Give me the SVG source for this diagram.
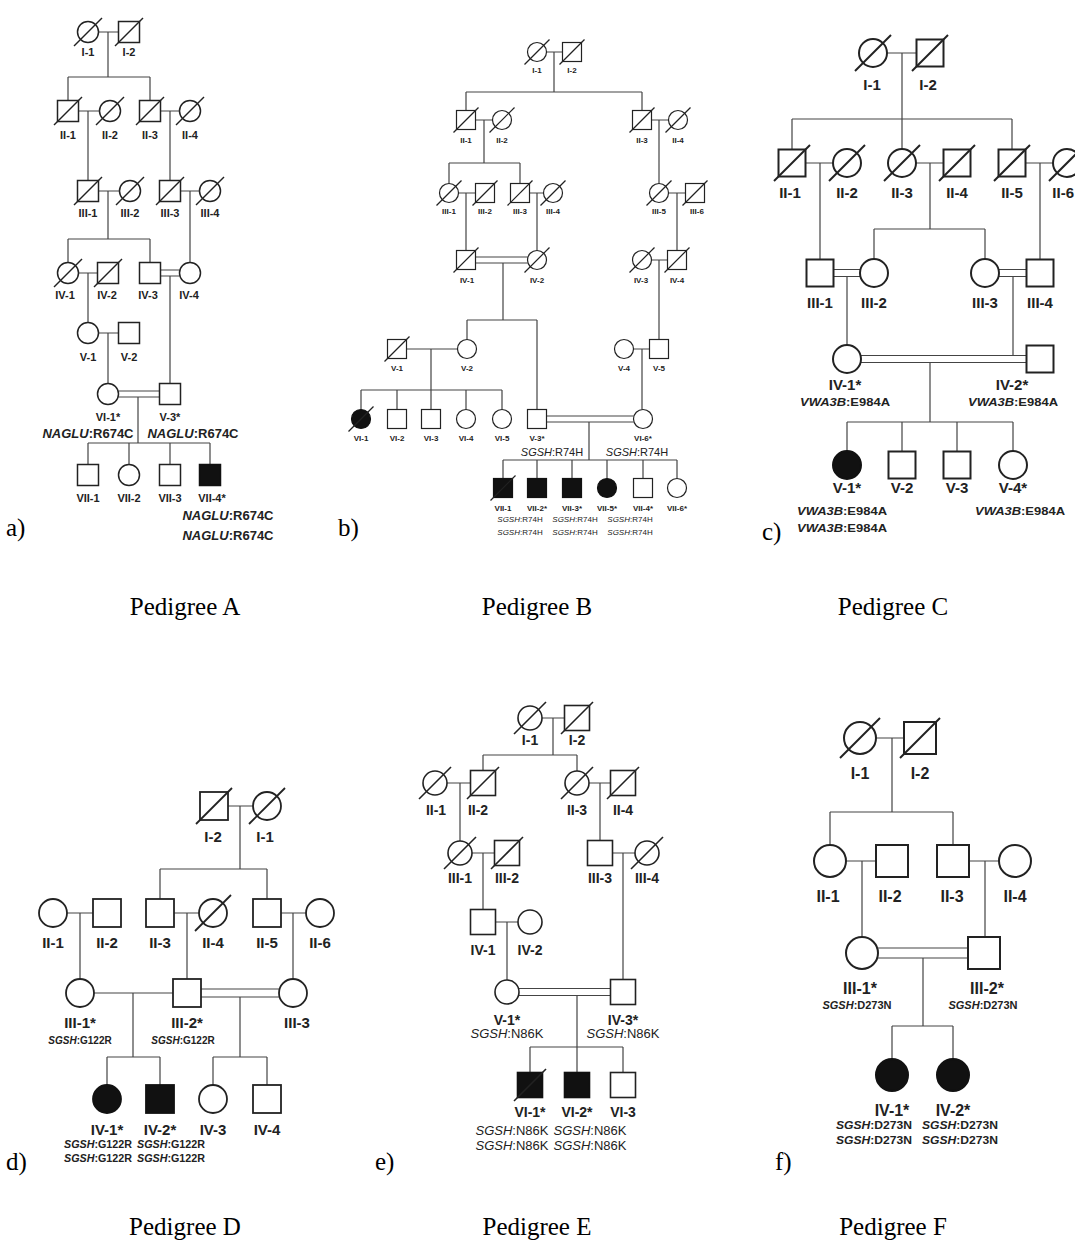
<svg xmlns="http://www.w3.org/2000/svg" width="1075" height="1251" viewBox="0 0 1075 1251">
<style>
.s{fill:#fff;stroke:#222}
.f{fill:#111;stroke:#111}
.dz{stroke:#222}
.ln{stroke:#444;fill:none}
.t{font-family:"Liberation Sans",Arial,sans-serif;font-weight:bold;text-anchor:middle;fill:#222}
.g{font-family:"Liberation Sans",Arial,sans-serif;font-weight:bold;text-anchor:middle;fill:#222}
.i{font-style:italic}
.cap{font-family:"Liberation Serif","Times New Roman",serif;font-size:25px;fill:#000}
.capc{font-family:"Liberation Serif","Times New Roman",serif;font-size:25px;fill:#000;text-anchor:middle}
#pa .s,#pa .f,#pa .dz{stroke-width:1.5}#pa .t{font-size:11px}#pa .g{font-size:13px}
#pb .s,#pb .f,#pb .dz{stroke-width:1.2}#pb .t{font-size:8px}#pb .g{font-size:8px;font-weight:normal}
#pc .s,#pc .f,#pc .dz{stroke-width:2}#pc .t{font-size:15px}#pc .g{font-size:11px}
#pd .s,#pd .f,#pd .dz{stroke-width:1.8}#pd .t{font-size:15px}#pd .g{font-size:10px}
#pe .s,#pe .f,#pe .dz{stroke-width:1.6}#pe .t{font-size:14px}#pe .g{font-size:13px;font-weight:normal}
#pf .s,#pf .f,#pf .dz{stroke-width:2}#pf .t{font-size:16px}#pf .g{font-size:11px}
.ln{stroke-width:1.2}
</style>
<rect width="1075" height="1251" fill="#fff"/>

<!-- ================= Pedigree A ================= -->
<g id="pa">
<g id="connectors-a" class="ln">
<path d="M98.5 32H118.5M108 32V77M68 77H150M68 77V100.5M150 77V100.5"/>
<path d="M78.5 111H99.5M88 111V180.5M160.5 111H179.5M170 111V180.5"/>
<path d="M98.5 191H119.5M108 191V239M68 239H150M68 239V262.5M150 239V262.5M180.5 191H199.5M190 191V262.5"/>
<path d="M78.5 273H97.5M88 273V322.5M160.5 270H179.5M160.5 276H179.5M170 276V383.5"/>
<path d="M98.5 333H118.5M108 333V383.5"/>
<path d="M118.5 391H159.5M118.5 397H159.5M138 397V443M88 443H210M88 443V464.5M129 443V464.5M170 443V464.5M210 443V464.5"/>
</g>
<g id="A-I-1"><circle class="s" cx="88" cy="32" r="10.5"/><line class="dz" x1="74" y1="46" x2="102" y2="18"/><text class="t" x="88" y="56">I-1</text></g>
<g id="A-I-2"><rect class="s" x="118.5" y="21.5" width="21" height="21"/><line class="dz" x1="115" y1="46" x2="143" y2="18"/><text class="t" x="129" y="56">I-2</text></g>
<g id="A-II-1"><rect class="s" x="57.5" y="100.5" width="21" height="21"/><line class="dz" x1="54" y1="125" x2="82" y2="97"/><text class="t" x="68" y="139">II-1</text></g>
<g id="A-II-2"><circle class="s" cx="110" cy="111" r="10.5"/><line class="dz" x1="96" y1="125" x2="124" y2="97"/><text class="t" x="110" y="139">II-2</text></g>
<g id="A-II-3"><rect class="s" x="139.5" y="100.5" width="21" height="21"/><line class="dz" x1="136" y1="125" x2="164" y2="97"/><text class="t" x="150" y="139">II-3</text></g>
<g id="A-II-4"><circle class="s" cx="190" cy="111" r="10.5"/><line class="dz" x1="176" y1="125" x2="204" y2="97"/><text class="t" x="190" y="139">II-4</text></g>
<g id="A-III-1"><rect class="s" x="77.5" y="180.5" width="21" height="21"/><line class="dz" x1="74" y1="205" x2="102" y2="177"/><text class="t" x="88" y="217">III-1</text></g>
<g id="A-III-2"><circle class="s" cx="130" cy="191" r="10.5"/><line class="dz" x1="116" y1="205" x2="144" y2="177"/><text class="t" x="130" y="217">III-2</text></g>
<g id="A-III-3"><rect class="s" x="159.5" y="180.5" width="21" height="21"/><line class="dz" x1="156" y1="205" x2="184" y2="177"/><text class="t" x="170" y="217">III-3</text></g>
<g id="A-III-4"><circle class="s" cx="210" cy="191" r="10.5"/><line class="dz" x1="196" y1="205" x2="224" y2="177"/><text class="t" x="210" y="217">III-4</text></g>
<g id="A-IV-1"><circle class="s" cx="68" cy="273" r="10.5"/><line class="dz" x1="54" y1="287" x2="82" y2="259"/><text class="t" x="65" y="299">IV-1</text></g>
<g id="A-IV-2"><rect class="s" x="97.5" y="262.5" width="21" height="21"/><line class="dz" x1="94" y1="287" x2="122" y2="259"/><text class="t" x="107" y="299">IV-2</text></g>
<g id="A-IV-3"><rect class="s" x="139.5" y="262.5" width="21" height="21"/><text class="t" x="148" y="299">IV-3</text></g>
<g id="A-IV-4"><circle class="s" cx="190" cy="273" r="10.5"/><text class="t" x="189" y="299">IV-4</text></g>
<g id="A-V-1"><circle class="s" cx="88" cy="333" r="10.5"/><text class="t" x="88" y="361">V-1</text></g>
<g id="A-V-2"><rect class="s" x="118.5" y="322.5" width="21" height="21"/><text class="t" x="129" y="361">V-2</text></g>
<g id="A-VI-1"><circle class="s" cx="108" cy="394" r="10.5"/><text class="t" x="108" y="421">VI-1*</text><text class="g" x="88" y="438"><tspan class="i">NAGLU</tspan>:R674C</text></g>
<g id="A-V-3"><rect class="s" x="159.5" y="383.5" width="21" height="21"/><text class="t" x="170" y="421">V-3*</text><text class="g" x="193" y="438"><tspan class="i">NAGLU</tspan>:R674C</text></g>
<g id="A-VII-1"><rect class="s" x="77.5" y="464.5" width="21" height="21"/><text class="t" x="88" y="502">VII-1</text></g>
<g id="A-VII-2"><circle class="s" cx="129" cy="475" r="10.5"/><text class="t" x="129" y="502">VII-2</text></g>
<g id="A-VII-3"><rect class="s" x="159.5" y="464.5" width="21" height="21"/><text class="t" x="170" y="502">VII-3</text></g>
<g id="A-VII-4"><rect class="f" x="199.5" y="464.5" width="21" height="21"/><text class="t" x="212" y="502">VII-4*</text><text class="g" x="228" y="520"><tspan class="i">NAGLU</tspan>:R674C</text><text class="g" x="228" y="540"><tspan class="i">NAGLU</tspan>:R674C</text></g>
</g>

<!-- ================= Pedigree B ================= -->
<g id="pb">
<g id="connectors-b" class="ln">
<path d="M546.5 52H562.5M554 52V92M466 92H642M466 92V110.5M642 92V110.5"/>
<path d="M475.5 120H492.5M484 120V163M449 163H520M449 163V183.5M520 163V183.5M651.5 120H668.5M659 120V183.5"/>
<path d="M458.5 193H475.5M466 193V250.5M529.5 193H543.5M537 193V250.5M668.5 193H685.5M677 193V250.5"/>
<path d="M475.5 257H527.5M475.5 263H527.5M503 263V320M467 320H537M467 320V339.5M537 320V409.5M651.5 260H667.5M659 260V339.5"/>
<path d="M406.5 349H457.5M431 349V390M361 390H502M361 390V409.5M397 390V409.5M431 390V409.5M466 390V409.5M502 390V409.5M633.5 349H649.5M642 349V409.5"/>
<path d="M546.5 416H633.5M546.5 422H633.5M589 422V460M503 460H677M503 460V478.5M537 460V478.5M572 460V478.5M607 460V478.5M643 460V478.5M677 460V478.5"/>
</g>
<g id="B-I-1"><circle class="s" cx="537" cy="52" r="9.5"/><line class="dz" x1="524.5" y1="64.5" x2="549.5" y2="39.5"/><text class="t" x="537" y="73">I-1</text></g>
<g id="B-I-2"><rect class="s" x="562.5" y="42.5" width="19" height="19"/><line class="dz" x1="559.5" y1="64.5" x2="584.5" y2="39.5"/><text class="t" x="572" y="73">I-2</text></g>
<g id="B-II-1"><rect class="s" x="456.5" y="110.5" width="19" height="19"/><line class="dz" x1="453.5" y1="132.5" x2="478.5" y2="107.5"/><text class="t" x="466" y="143">II-1</text></g>
<g id="B-II-2"><circle class="s" cx="502" cy="120" r="9.5"/><line class="dz" x1="489.5" y1="132.5" x2="514.5" y2="107.5"/><text class="t" x="502" y="143">II-2</text></g>
<g id="B-II-3"><rect class="s" x="632.5" y="110.5" width="19" height="19"/><line class="dz" x1="629.5" y1="132.5" x2="654.5" y2="107.5"/><text class="t" x="642" y="143">II-3</text></g>
<g id="B-II-4"><circle class="s" cx="678" cy="120" r="9.5"/><line class="dz" x1="665.5" y1="132.5" x2="690.5" y2="107.5"/><text class="t" x="678" y="143">II-4</text></g>
<g id="B-III-1"><circle class="s" cx="449" cy="193" r="9.5"/><line class="dz" x1="436.5" y1="205.5" x2="461.5" y2="180.5"/><text class="t" x="449" y="214">III-1</text></g>
<g id="B-III-2"><rect class="s" x="475.5" y="183.5" width="19" height="19"/><line class="dz" x1="472.5" y1="205.5" x2="497.5" y2="180.5"/><text class="t" x="485" y="214">III-2</text></g>
<g id="B-III-3"><rect class="s" x="510.5" y="183.5" width="19" height="19"/><line class="dz" x1="507.5" y1="205.5" x2="532.5" y2="180.5"/><text class="t" x="520" y="214">III-3</text></g>
<g id="B-III-4"><circle class="s" cx="553" cy="193" r="9.5"/><line class="dz" x1="540.5" y1="205.5" x2="565.5" y2="180.5"/><text class="t" x="553" y="214">III-4</text></g>
<g id="B-III-5"><circle class="s" cx="659" cy="193" r="9.5"/><line class="dz" x1="646.5" y1="205.5" x2="671.5" y2="180.5"/><text class="t" x="659" y="214">III-5</text></g>
<g id="B-III-6"><rect class="s" x="685.5" y="183.5" width="19" height="19"/><line class="dz" x1="682.5" y1="205.5" x2="707.5" y2="180.5"/><text class="t" x="697" y="214">III-6</text></g>
<g id="B-IV-1"><rect class="s" x="456.5" y="250.5" width="19" height="19"/><line class="dz" x1="453.5" y1="272.5" x2="478.5" y2="247.5"/><text class="t" x="467" y="283">IV-1</text></g>
<g id="B-IV-2"><circle class="s" cx="537" cy="260" r="9.5"/><line class="dz" x1="524.5" y1="272.5" x2="549.5" y2="247.5"/><text class="t" x="537" y="283">IV-2</text></g>
<g id="B-IV-3"><circle class="s" cx="642" cy="260" r="9.5"/><line class="dz" x1="629.5" y1="272.5" x2="654.5" y2="247.5"/><text class="t" x="641" y="283">IV-3</text></g>
<g id="B-IV-4"><rect class="s" x="667.5" y="250.5" width="19" height="19"/><line class="dz" x1="664.5" y1="272.5" x2="689.5" y2="247.5"/><text class="t" x="677" y="283">IV-4</text></g>
<g id="B-V-1"><rect class="s" x="387.5" y="339.5" width="19" height="19"/><line class="dz" x1="384.5" y1="361.5" x2="409.5" y2="336.5"/><text class="t" x="397" y="371">V-1</text></g>
<g id="B-V-2"><circle class="s" cx="467" cy="349" r="9.5"/><text class="t" x="467" y="371">V-2</text></g>
<g id="B-V-4"><circle class="s" cx="624" cy="349" r="9.5"/><text class="t" x="624" y="371">V-4</text></g>
<g id="B-V-5"><rect class="s" x="649.5" y="339.5" width="19" height="19"/><text class="t" x="659" y="371">V-5</text></g>
<g id="B-VI-1"><circle class="f" cx="361" cy="419" r="9.5"/><line class="dz" x1="348.5" y1="431.5" x2="373.5" y2="406.5"/><text class="t" x="361" y="441">VI-1</text></g>
<g id="B-VI-2"><rect class="s" x="387.5" y="409.5" width="19" height="19"/><text class="t" x="397" y="441">VI-2</text></g>
<g id="B-VI-3"><rect class="s" x="421.5" y="409.5" width="19" height="19"/><text class="t" x="431" y="441">VI-3</text></g>
<g id="B-VI-4"><circle class="s" cx="466" cy="419" r="9.5"/><text class="t" x="466" y="441">VI-4</text></g>
<g id="B-VI-5"><circle class="s" cx="502" cy="419" r="9.5"/><text class="t" x="502" y="441">VI-5</text></g>
<g id="B-V-3"><rect class="s" x="527.5" y="409.5" width="19" height="19"/><text class="t" x="537" y="441">V-3*</text><text class="g" x="552" y="456" style="font-size:11px"><tspan class="i">SGSH</tspan>:R74H</text></g>
<g id="B-VI-6"><circle class="s" cx="643" cy="419" r="9.5"/><text class="t" x="643" y="441">VI-6*</text><text class="g" x="637" y="456" style="font-size:11px"><tspan class="i">SGSH</tspan>:R74H</text></g>
<g id="B-VII-1"><rect class="f" x="493.5" y="478.5" width="19" height="19"/><line class="dz" x1="490.5" y1="500.5" x2="515.5" y2="475.5"/><text class="t" x="503" y="511">VII-1</text></g>
<g id="B-VII-2"><rect class="f" x="527.5" y="478.5" width="19" height="19"/><text class="t" x="537" y="511">VII-2*</text></g>
<g id="B-VII-3"><rect class="f" x="562.5" y="478.5" width="19" height="19"/><text class="t" x="572" y="511">VII-3*</text></g>
<g id="B-VII-5"><circle class="f" cx="607" cy="488" r="9.5"/><text class="t" x="607" y="511">VII-5*</text></g>
<g id="B-VII-4"><rect class="s" x="633.5" y="478.5" width="19" height="19"/><text class="t" x="643" y="511">VII-4*</text></g>
<g id="B-VII-6"><circle class="s" cx="677" cy="488" r="9.5"/><text class="t" x="677" y="511">VII-6*</text></g>
<g id="B-genes">
<text class="g" x="520" y="522"><tspan class="i">SGSH</tspan>:R74H</text><text class="g" x="575" y="522"><tspan class="i">SGSH</tspan>:R74H</text><text class="g" x="630" y="522"><tspan class="i">SGSH</tspan>:R74H</text>
<text class="g" x="520" y="535"><tspan class="i">SGSH</tspan>:R74H</text><text class="g" x="575" y="535"><tspan class="i">SGSH</tspan>:R74H</text><text class="g" x="630" y="535"><tspan class="i">SGSH</tspan>:R74H</text>
</g>
</g>

<!-- ================= Pedigree C ================= -->
<g id="pc">
<g id="connectors-c" class="ln">
<path d="M887 53H916.5M902 53V119M792 119H1012M792 119V149.5M902 119V149M1012 119V149.5"/>
<path d="M805.5 163H833M820 163V259.5M916 163H943.5M930 163V229M874 229H985M874 229V259M985 229V259M1025.5 163H1053M1040 163V259.5"/>
<path d="M833.5 269.5H860M833.5 276.5H860M847 276.5V345M999 269.5H1026.5M999 276.5H1026.5M1013 276.5V355.5"/>
<path d="M861 355.5H1026.5M861 362.5H1026.5M930 362.5V422M847 422H1013M847 422V451M902 422V451.5M957 422V451.5M1013 422V451"/>
</g>
<g id="C-I-1"><circle class="s" cx="873" cy="53" r="14"/><line class="dz" x1="855" y1="71" x2="891" y2="35"/><text class="t" x="872" y="90">I-1</text></g>
<g id="C-I-2"><rect class="s" x="916.5" y="39.5" width="27" height="27"/><line class="dz" x1="912" y1="71" x2="948" y2="35"/><text class="t" x="928" y="90">I-2</text></g>
<g id="C-II-1"><rect class="s" x="778.5" y="149.5" width="27" height="27"/><line class="dz" x1="774" y1="181" x2="810" y2="145"/><text class="t" x="790" y="198">II-1</text></g>
<g id="C-II-2"><circle class="s" cx="847" cy="163" r="14"/><line class="dz" x1="829" y1="181" x2="865" y2="145"/><text class="t" x="847" y="198">II-2</text></g>
<g id="C-II-3"><circle class="s" cx="902" cy="163" r="14"/><line class="dz" x1="884" y1="181" x2="920" y2="145"/><text class="t" x="902" y="198">II-3</text></g>
<g id="C-II-4"><rect class="s" x="943.5" y="149.5" width="27" height="27"/><line class="dz" x1="939" y1="181" x2="975" y2="145"/><text class="t" x="957" y="198">II-4</text></g>
<g id="C-II-5"><rect class="s" x="998.5" y="149.5" width="27" height="27"/><line class="dz" x1="994" y1="181" x2="1030" y2="145"/><text class="t" x="1012" y="198">II-5</text></g>
<g id="C-II-6"><circle class="s" cx="1067" cy="163" r="14"/><line class="dz" x1="1049" y1="181" x2="1085" y2="145"/><text class="t" x="1074" y="198" style="text-anchor:end">II-6</text></g>
<g id="C-III-1"><rect class="s" x="806.5" y="259.5" width="27" height="27"/><text class="t" x="820" y="308">III-1</text></g>
<g id="C-III-2"><circle class="s" cx="874" cy="273" r="14"/><text class="t" x="874" y="308">III-2</text></g>
<g id="C-III-3"><circle class="s" cx="985" cy="273" r="14"/><text class="t" x="985" y="308">III-3</text></g>
<g id="C-III-4"><rect class="s" x="1026.5" y="259.5" width="27" height="27"/><text class="t" x="1040" y="308">III-4</text></g>
<g id="C-IV-1"><circle class="s" cx="847" cy="359" r="14"/><text class="t" x="845" y="390">IV-1*</text><text class="g i" x="845" y="406" textLength="90" lengthAdjust="spacingAndGlyphs">VWA3B<tspan font-style="normal">:E984A</tspan></text></g>
<g id="C-IV-2"><rect class="s" x="1026.5" y="345.5" width="27" height="27"/><text class="t" x="1012" y="390">IV-2*</text><text class="g i" x="1013" y="406" textLength="90" lengthAdjust="spacingAndGlyphs">VWA3B<tspan font-style="normal">:E984A</tspan></text></g>
<g id="C-V-1"><circle class="f" cx="847" cy="465" r="14"/><text class="t" x="847" y="493">V-1*</text><text class="g i" x="842" y="515" textLength="90" lengthAdjust="spacingAndGlyphs">VWA3B<tspan font-style="normal">:E984A</tspan></text><text class="g i" x="842" y="532" textLength="90" lengthAdjust="spacingAndGlyphs">VWA3B<tspan font-style="normal">:E984A</tspan></text></g>
<g id="C-V-2"><rect class="s" x="888.5" y="451.5" width="27" height="27"/><text class="t" x="902" y="493">V-2</text></g>
<g id="C-V-3"><rect class="s" x="943.5" y="451.5" width="27" height="27"/><text class="t" x="957" y="493">V-3</text></g>
<g id="C-V-4"><circle class="s" cx="1013" cy="465" r="14"/><text class="t" x="1013" y="493">V-4*</text><text class="g i" x="1020" y="515" textLength="90" lengthAdjust="spacingAndGlyphs">VWA3B<tspan font-style="normal">:E984A</tspan></text></g>
</g>

<!-- ================= Pedigree D ================= -->
<g id="pd">
<g id="connectors-d" class="ln">
<path d="M228 806H253M240 806V869M160 869H267M160 869V899M267 869V899"/>
<path d="M67 913H93M80 913V979M174 913H199M187 913V979M281 913H306M293 913V979"/>
<path d="M94 993H173M133 993V1057M107 1057H160M107 1057V1085M160 1057V1085"/>
<path d="M201 989H279M201 997H279M240 997V1057M213 1057H267M213 1057V1085M267 1057V1085"/>
</g>
<g id="D-I-2"><rect class="s" x="200" y="792" width="28" height="28"/><line class="dz" x1="196" y1="824" x2="232" y2="788"/><text class="t" x="213" y="842">I-2</text></g>
<g id="D-I-1"><circle class="s" cx="267" cy="806" r="14"/><line class="dz" x1="249" y1="824" x2="285" y2="788"/><text class="t" x="265" y="842">I-1</text></g>
<g id="D-II-1"><circle class="s" cx="53" cy="913" r="14"/><text class="t" x="53" y="948">II-1</text></g>
<g id="D-II-2"><rect class="s" x="93" y="899" width="28" height="28"/><text class="t" x="107" y="948">II-2</text></g>
<g id="D-II-3"><rect class="s" x="146" y="899" width="28" height="28"/><text class="t" x="160" y="948">II-3</text></g>
<g id="D-II-4"><circle class="s" cx="213" cy="913" r="14"/><line class="dz" x1="195" y1="931" x2="231" y2="895"/><text class="t" x="213" y="948">II-4</text></g>
<g id="D-II-5"><rect class="s" x="253" y="899" width="28" height="28"/><text class="t" x="267" y="948">II-5</text></g>
<g id="D-II-6"><circle class="s" cx="320" cy="913" r="14"/><text class="t" x="320" y="948">II-6</text></g>
<g id="D-III-1"><circle class="s" cx="80" cy="993" r="14"/><text class="t" x="80" y="1028">III-1*</text><text class="g" x="80" y="1044"><tspan class="i">SGSH</tspan>:G122R</text></g>
<g id="D-III-2"><rect class="s" x="173" y="979" width="28" height="28"/><text class="t" x="187" y="1028">III-2*</text><text class="g" x="183" y="1044"><tspan class="i">SGSH</tspan>:G122R</text></g>
<g id="D-III-3"><circle class="s" cx="293" cy="993" r="14"/><text class="t" x="297" y="1028">III-3</text></g>
<g id="D-IV-1"><circle class="f" cx="107" cy="1099" r="14"/><text class="t" x="107" y="1135">IV-1*</text><text class="g" x="98" y="1148" textLength="68" lengthAdjust="spacingAndGlyphs"><tspan class="i">SGSH</tspan>:G122R</text><text class="g" x="98" y="1162" textLength="68" lengthAdjust="spacingAndGlyphs"><tspan class="i">SGSH</tspan>:G122R</text></g>
<g id="D-IV-2"><rect class="f" x="146" y="1085" width="28" height="28"/><text class="t" x="160" y="1135">IV-2*</text><text class="g" x="171" y="1148" textLength="68" lengthAdjust="spacingAndGlyphs"><tspan class="i">SGSH</tspan>:G122R</text><text class="g" x="171" y="1162" textLength="68" lengthAdjust="spacingAndGlyphs"><tspan class="i">SGSH</tspan>:G122R</text></g>
<g id="D-IV-3"><circle class="s" cx="213" cy="1099" r="14"/><text class="t" x="213" y="1135">IV-3</text></g>
<g id="D-IV-4"><rect class="s" x="253" y="1085" width="28" height="28"/><text class="t" x="267" y="1135">IV-4</text></g>
</g>

<!-- ================= Pedigree E ================= -->
<g id="pe">
<g id="connectors-e" class="ln">
<path d="M542 718H564.5M553 718V755M483 755H577M483 755V770.5M577 755V771"/>
<path d="M447 783H470.5M460 783V841M589 783H610.5M600 783V840.5"/>
<path d="M472 853H494.5M483 853V909.5M612.5 853H635M623 853V979.5"/>
<path d="M495.5 922H518M507 922V980"/>
<path d="M519 988.5H610.5M519 995.5H610.5M577 995.5V1047M530 1047H623M530 1047V1072.5M577 1047V1072.5M623 1047V1072.5"/>
</g>
<g id="E-I-1"><circle class="s" cx="530" cy="718" r="12"/><line class="dz" x1="514" y1="734" x2="546" y2="702"/><text class="t" x="530" y="745">I-1</text></g>
<g id="E-I-2"><rect class="s" x="564.5" y="705.5" width="25" height="25"/><line class="dz" x1="561" y1="734" x2="593" y2="702"/><text class="t" x="577" y="745">I-2</text></g>
<g id="E-II-1"><circle class="s" cx="435" cy="783" r="12"/><line class="dz" x1="419" y1="799" x2="451" y2="767"/><text class="t" x="436" y="815">II-1</text></g>
<g id="E-II-2"><rect class="s" x="470.5" y="770.5" width="25" height="25"/><line class="dz" x1="467" y1="799" x2="499" y2="767"/><text class="t" x="478" y="815">II-2</text></g>
<g id="E-II-3"><circle class="s" cx="577" cy="783" r="12"/><line class="dz" x1="561" y1="799" x2="593" y2="767"/><text class="t" x="577" y="815">II-3</text></g>
<g id="E-II-4"><rect class="s" x="610.5" y="770.5" width="25" height="25"/><line class="dz" x1="607" y1="799" x2="639" y2="767"/><text class="t" x="623" y="815">II-4</text></g>
<g id="E-III-1"><circle class="s" cx="460" cy="853" r="12"/><line class="dz" x1="444" y1="869" x2="476" y2="837"/><text class="t" x="460" y="883">III-1</text></g>
<g id="E-III-2"><rect class="s" x="494.5" y="840.5" width="25" height="25"/><line class="dz" x1="491" y1="869" x2="523" y2="837"/><text class="t" x="507" y="883">III-2</text></g>
<g id="E-III-3"><rect class="s" x="587.5" y="840.5" width="25" height="25"/><text class="t" x="600" y="883">III-3</text></g>
<g id="E-III-4"><circle class="s" cx="647" cy="853" r="12"/><line class="dz" x1="631" y1="869" x2="663" y2="837"/><text class="t" x="647" y="883">III-4</text></g>
<g id="E-IV-1"><rect class="s" x="470.5" y="909.5" width="25" height="25"/><text class="t" x="483" y="955">IV-1</text></g>
<g id="E-IV-2"><circle class="s" cx="530" cy="922" r="12"/><text class="t" x="530" y="955">IV-2</text></g>
<g id="E-V-1"><circle class="s" cx="507" cy="992" r="12"/><text class="t" x="507" y="1025">V-1*</text><text class="g" x="507" y="1038"><tspan class="i">SGSH</tspan>:N86K</text></g>
<g id="E-IV-3"><rect class="s" x="610.5" y="979.5" width="25" height="25"/><text class="t" x="623" y="1025">IV-3*</text><text class="g" x="623" y="1038"><tspan class="i">SGSH</tspan>:N86K</text></g>
<g id="E-VI-1"><rect class="f" x="517.5" y="1072.5" width="25" height="25"/><line class="dz" x1="514" y1="1101" x2="546" y2="1069"/><text class="t" x="530" y="1117">VI-1*</text><text class="g" x="512" y="1135"><tspan class="i">SGSH</tspan>:N86K</text><text class="g" x="512" y="1150"><tspan class="i">SGSH</tspan>:N86K</text></g>
<g id="E-VI-2"><rect class="f" x="564.5" y="1072.5" width="25" height="25"/><text class="t" x="577" y="1117">VI-2*</text><text class="g" x="590" y="1135"><tspan class="i">SGSH</tspan>:N86K</text><text class="g" x="590" y="1150"><tspan class="i">SGSH</tspan>:N86K</text></g>
<g id="E-VI-3"><rect class="s" x="610.5" y="1072.5" width="25" height="25"/><text class="t" x="623" y="1117">VI-3</text></g>
</g>

<!-- ================= Pedigree F ================= -->
<g id="pf">
<g id="connectors-f" class="ln">
<path d="M876 738H904M892 738V812M830 812H953M830 812V845M953 812V845"/>
<path d="M846 861H876M862 861V937M969 861H999M985 861V937"/>
<path d="M878 948H968M878 958H968M923 958V1026M892 1026H953M892 1026V1059M953 1026V1059"/>
</g>
<g id="F-I-1"><circle class="s" cx="860" cy="738" r="16"/><line class="dz" x1="840" y1="758" x2="880" y2="718"/><text class="t" x="860" y="779">I-1</text></g>
<g id="F-I-2"><rect class="s" x="904" y="722" width="32" height="32"/><line class="dz" x1="900" y1="758" x2="940" y2="718"/><text class="t" x="920" y="779">I-2</text></g>
<g id="F-II-1"><circle class="s" cx="830" cy="861" r="16"/><text class="t" x="828" y="902">II-1</text></g>
<g id="F-II-2"><rect class="s" x="876" y="845" width="32" height="32"/><text class="t" x="890" y="902">II-2</text></g>
<g id="F-II-3"><rect class="s" x="937" y="845" width="32" height="32"/><text class="t" x="952" y="902">II-3</text></g>
<g id="F-II-4"><circle class="s" cx="1015" cy="861" r="16"/><text class="t" x="1015" y="902">II-4</text></g>
<g id="F-III-1"><circle class="s" cx="862" cy="953" r="16"/><text class="t" x="860" y="994">III-1*</text><text class="g" x="857" y="1009"><tspan class="i">SGSH</tspan>:D273N</text></g>
<g id="F-III-2"><rect class="s" x="968" y="937" width="32" height="32"/><text class="t" x="987" y="994">III-2*</text><text class="g" x="983" y="1009"><tspan class="i">SGSH</tspan>:D273N</text></g>
<g id="F-IV-1"><circle class="f" cx="892" cy="1075" r="16"/><text class="t" x="892" y="1116">IV-1*</text><text class="g" x="874" y="1129" textLength="76" lengthAdjust="spacingAndGlyphs"><tspan class="i">SGSH</tspan>:D273N</text><text class="g" x="874" y="1144" textLength="76" lengthAdjust="spacingAndGlyphs"><tspan class="i">SGSH</tspan>:D273N</text></g>
<g id="F-IV-2"><circle class="f" cx="953" cy="1075" r="16"/><text class="t" x="953" y="1116">IV-2*</text><text class="g" x="960" y="1129" textLength="76" lengthAdjust="spacingAndGlyphs"><tspan class="i">SGSH</tspan>:D273N</text><text class="g" x="960" y="1144" textLength="76" lengthAdjust="spacingAndGlyphs"><tspan class="i">SGSH</tspan>:D273N</text></g>
</g>

<!-- panel letters and captions -->
<g id="captions">
<text class="cap" x="6" y="536">a)</text>
<text class="cap" x="338" y="536">b)</text>
<text class="cap" x="762" y="540">c)</text>
<text class="cap" x="6" y="1170">d)</text>
<text class="cap" x="375" y="1170">e)</text>
<text class="cap" x="775" y="1170">f)</text>
<text class="capc" x="185" y="615">Pedigree A</text>
<text class="capc" x="537" y="615">Pedigree B</text>
<text class="capc" x="893" y="615">Pedigree C</text>
<text class="capc" x="185" y="1235">Pedigree D</text>
<text class="capc" x="537" y="1235">Pedigree E</text>
<text class="capc" x="893" y="1235">Pedigree F</text>
</g>
</svg>
